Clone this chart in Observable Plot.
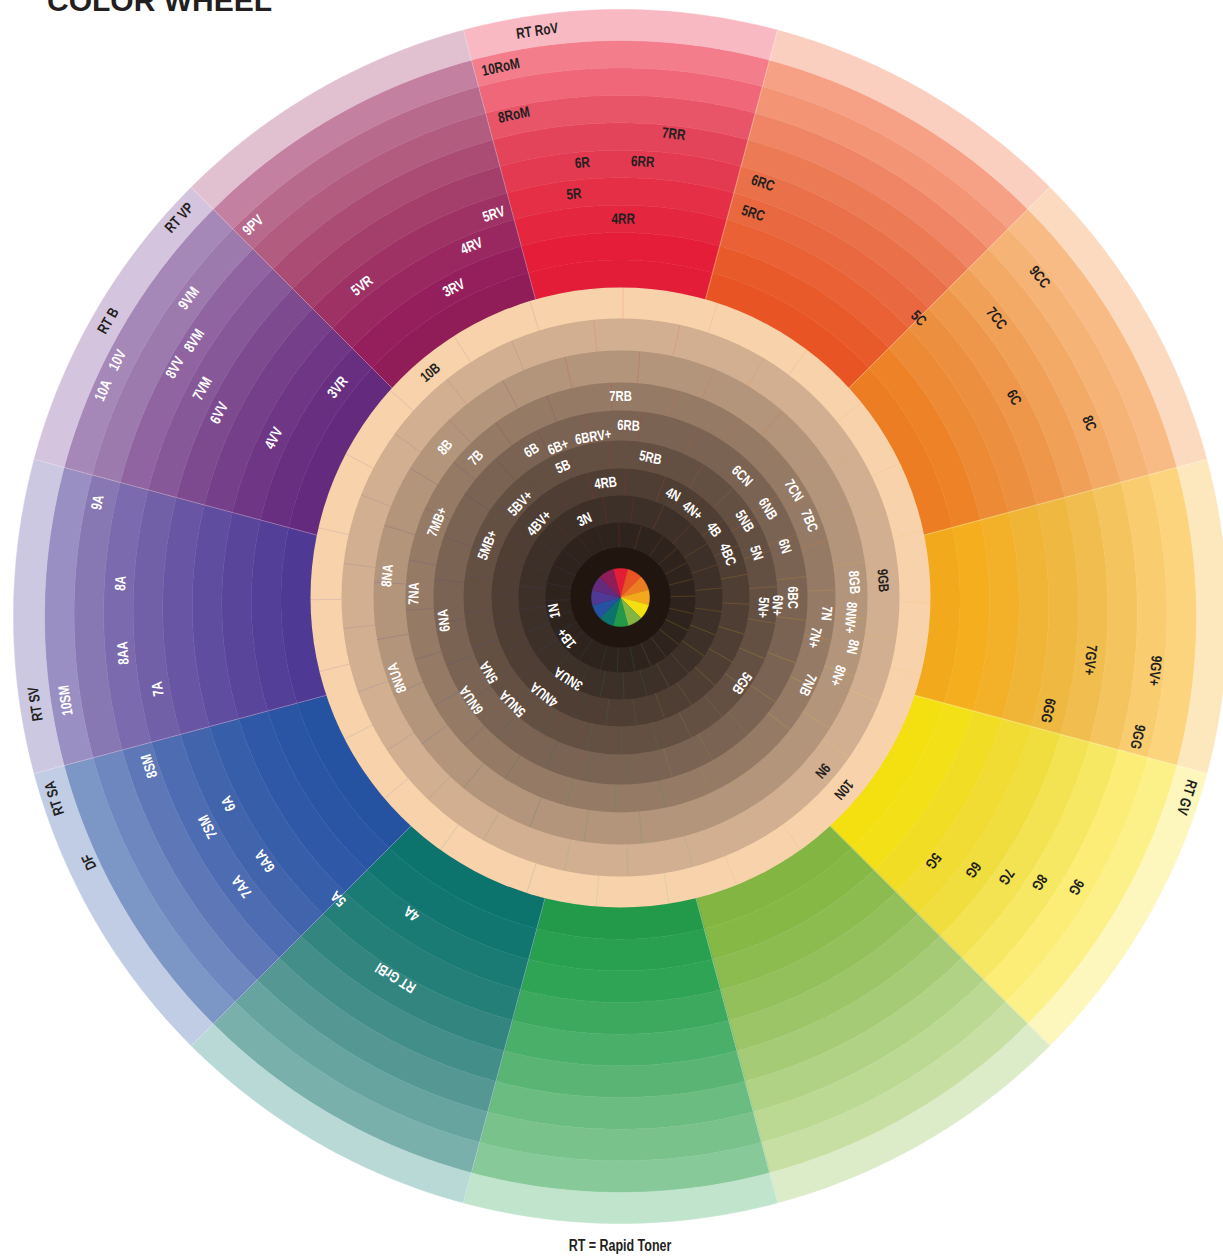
<!DOCTYPE html>
<html><head><meta charset="utf-8">
<script src="https://cdn.jsdelivr.net/npm/d3@7"></script>
<script src="https://cdn.jsdelivr.net/npm/@observablehq/plot@0.6"></script>
<style>
body{margin:0;background:#fff;width:1223px;height:1257px;overflow:hidden;position:relative}
#chart{position:absolute;left:0;top:0}
#title{position:absolute;left:47px;top:-14px;font:bold 30px/30px "Liberation Sans",Arial,sans-serif;color:#231f20;white-space:nowrap}
#caption{position:absolute;left:0;width:1240px;top:1238px;text-align:center;font:bold 16px/16px "Liberation Sans",Arial,sans-serif;color:#231f20;transform:scaleX(0.78);transform-origin:620px 0}
</style></head><body>
<div id="chart"></div>
<div id="title">COLOR WHEEL</div>
<div id="caption">RT = Rapid Toner</div>
<script>
// ---------------- DATA ----------------
const sectorHues = ["Red","Red-Orange","Orange","Yellow-Orange","Yellow","Yellow-Green","Green","Teal","Blue","Blue-Violet","Violet","Red-Violet"];
const sectorAngles = [0,30,60,90,120,150,180,210,240,270,300,330];
// shades: ring 1 (inner) ... ring 9, then the pale RT band
const shadesRed        = ["#e31c37","#e51d39","#e5263f","#e52f47","#e43a51","#e4445a","#e85468","#ef6779","#f47d8b","#f8b9c3"];
const shadesRedOrange  = ["#e85424","#e95a2a","#e96135","#e9683f","#ea7049","#ec7a55","#ef8564","#f39474","#f6a185","#fbcfbf"];
const shadesOrange     = ["#ed7d22","#ee8226","#ec8a35","#ec903f","#ee974a","#f0a057","#f3aa66","#f6b376","#f8bb85","#fbdabf"];
const shadesYellowOrange=["#f2a91c","#f4ae1e","#f3b12a","#f0b437","#efb841","#f1bd4e","#f4c45f","#f9cc70","#fcd47e","#fde7bd"];
const shadesYellow     = ["#f4df10","#f4e017","#f2dd25","#f0dc33","#f0dd3e","#f3e251","#f7e863","#fbed75","#fcf089","#fdf6bd"];
const shadesYellowGreen= ["#82b541","#86b846","#8cbc50","#93c05b","#9bc567","#a5cb76","#b0d285","#bcd994","#c7dfa3","#dcebc8"];
const shadesGreen      = ["#239a4a","#28a050","#30a455","#3ca95e","#4aaf69","#5ab574","#6abc80","#79c28c","#87c999","#c0e4cc"];
const shadesTeal       = ["#0d736d","#127670","#1a7a74","#257f79","#338680","#438e88","#559893","#67a4a0","#79b0ac","#b8d9d6"];
const shadesBlue       = ["#2552a1","#2955a4","#2f59a6","#375ea9","#4264ad","#4e6cb2","#5e78b7","#6e87be","#7c96c6","#c1cde5"];
const shadesBlueViolet = ["#4e3a95","#533f97","#59469b","#5f4ea0","#6856a4","#715fa8","#7b6aad","#8778b3","#9a8fc2","#ccc8e1"];
const shadesViolet     = ["#632a7d","#682e80","#6e3685","#753f89","#7d4a8f","#875897","#8f64a0","#9d7aad","#a688b8","#d4c4dd"];
const shadesRedViolet  = ["#911d58","#951f5c","#992861","#9e3265","#a43e6b","#aa4c74","#b25c80","#b86a8d","#c480a0","#e1c1d0"];
const sectorShades = [shadesRed,shadesRedOrange,shadesOrange,shadesYellowOrange,shadesYellow,shadesYellowGreen,shadesGreen,shadesTeal,shadesBlue,shadesBlueViolet,shadesViolet,shadesRedViolet];

// neutral (brown) disc: ring 1 (black core ring) ... ring 10 (peach)
const neutralShades = ["#20160f","#2f241d","#3d3028","#4f3e34","#635043","#7a6352","#957a65","#b2957a","#d2af90","#f8d2ab"];
// segment dividers of the neutral disc (angles in the peach ring) and per-ring stagger
const dividerAngles = [0.5,18.3,37,51,64.3,77.6,91,104.5,118,131,144.5,158,171,184.5,197.6,215.5,229.6,242.8,256.2,269.6,283,297.6,312,327.5,343];
const dividerStagger = [0,-2,7,2,-5,6,-3,4,-6,0]; // rings 1..10

// labels in the colour sectors: text, angle (deg, clockwise from top), shade level (1-9 rings, 10 = RT band)
const outerText  = ["RT RoV","10RoM","8RoM","7RR","6R","6RR","5R","4RR","6RC","5RC","9CC","7CC","5C","6C","8C","7GV+","9GV+","6GG","9GG","RT GV","5G","6G","7G","8G","9G","4A","RT GrBl","5A","7AA","6AA","7SM","6A","8SM","RT SA","DF","RT SV","10SM","9A","8A","8AA","7A","RT B","RT VP","10A","10V","9VM","8VV","8VM","7VM","6VV","4VV","3VR","9PV","5VR","5RV","4RV","3RV"];
const outerAngle = [-8.1,-12.3,-12,6.3,-4.8,2.8,-6.3,0.4,18.2,18.2,51,51.6,45,60.9,67.6,95.3,95.8,102.4,103.1,107.7,128,125.7,124,122.4,120.7,215.1,211.9,225,234.5,235.5,243,244.5,252.4,252.2,245.2,261.5,261.4,282.3,273.8,265.8,261.1,300,312.1,293.6,297,306.4,299.2,302.9,298.6,296.9,297.2,309,316.8,322,342.5,338.1,333.1];
const outerLevel = [10,9,7.2,6.2,5.1,5.1,4,3,5.15,4,8.2,6.1,4,5.1,7.1,6,8.2,4.9,8,10.1,3.7,4.9,5.9,6.9,8,2.7,4.7,3.8,5.9,4.8,5.8,4.85,6.8,10.1,9.8,10,9,8.1,6.95,6.9,5.9,10,10.1,9.1,9.1,8.1,7.2,7.1,6,5.1,3,2,8.1,3.9,3.9,3.1,2];

// labels in the neutral disc
const innerText  = ["10B","8B","7B","6B","6B+","6BRV+","6RB","7RB","5B","5RB","4RB","5BV+","4BV+","3N","7MB+","5MB+","8NA","7NA","6NA","8NUA","6NUA","5NA","5NUA","4NUA","3NUA","1B+","1N","4N","4N+","4B","4BC","6CN","5NB","5N","6NB","6N","7CN","7BC","8GB","9GB","5N+","6N+","6BC","7N","7N+","8NW+","8N","8N+","7NB","5GB","9N","10N"];
const innerAngle = [319.8,310.6,314,328.9,337.5,350.4,2.7,0,336.3,12.1,352.6,313.2,312.4,335.2,292.4,291.5,275.4,271.1,262.6,250.2,235.5,240.4,225.5,218.2,212.7,233,258.7,27,39.6,54,68.2,45,58.4,71.8,59,72.7,58.3,67.9,86.3,86.3,94,92.9,90,94.4,101.7,95,102,109.8,115,125.2,130.6,130.7];
const innerLevel = [10,8,7,6,5.7,5.7,6,7,5,5,4,4.8,3.8,2.9,6.9,5,8.1,7.2,6.2,8.2,6.3,5.3,5.3,4.3,3.3,2.2,2.2,4,3.9,4,4,6,5.1,5,6,6,7.1,7.1,8.1,9,5,5.5,6,7.2,6.9,8,8.2,8,7.2,5.2,9.1,10];

// ---------------- LAYOUT ----------------
const W = 1223, H = 1257;
const CX = 620, CY = 616;         // pixel centre of the outer wheel
const IN_DY = 19;                 // neutral disc centre sits this far above
const R_IN = 310, R_PALE = 576, R_OUT = 607;
const innerEdges = [0,29,50,75,102,129,157,187,215,247,279,310];
const DARK = "#231f20";
const FONT = '"Liberation Sans",Arial,sans-serif';
const rad = d => d * Math.PI / 180;
function boundaryR(t, deg) {
  const d = IN_DY * (1 - t), R = R_IN + (R_PALE - R_IN) * t;
  const s = Math.sin(rad(deg)), c = Math.cos(rad(deg));
  return d * c + Math.sqrt(R * R - d * d * s * s);
}
const pt = (r, deg, oy = 0) => [r * Math.sin(rad(deg)), oy + r * Math.cos(rad(deg))];
const hueAt = deg => ((Math.round(deg / 30) % 12) + 12) % 12;

// sector ring polygons
const polys = [];
sectorAngles.forEach((a, s) => {
  for (let k = 1; k <= 10; k++) {
    const outer = d => k === 10 ? R_OUT : boundaryR(k / 9, d);
    const inner = d => k === 1 ? boundaryR(-0.08, d) : boundaryR((k - 1) / 9, d);
    const pts = [];
    for (let d = a - 15; d <= a + 15 + 1e-9; d += 0.5) pts.push(pt(outer(d), d));
    for (let d = a + 15; d >= a - 15 - 1e-9; d -= 0.5) pts.push(pt(inner(d), d));
    pts.forEach(([x, y]) => polys.push({id: s + "-" + k, x, y, color: sectorShades[s][k - 1]}));
  }
});
const seps = sectorAngles.map(a => {
  const b = a + 15;
  const [x1, y1] = pt(boundaryR(0, b), b), [x2, y2] = pt(R_OUT, b);
  return {x1, y1, x2, y2};
});
// neutral disc rings
const disc = neutralShades.map((c, j) => ({r: innerEdges[j + 2], color: c})).reverse();
// dividers in rings 2..10
const dividers = [];
for (let ring = 2; ring <= 10; ring++) {
  dividerAngles.forEach(a0 => {
    const a = a0 + dividerStagger[ring - 1];
    const [x1, y1] = pt(innerEdges[ring], a, IN_DY), [x2, y2] = pt(innerEdges[ring + 1], a, IN_DY);
    dividers.push({x1, y1, x2, y2, color: sectorShades[hueAt(a)][ring >= 9 ? 5 : 1]});
  });
}
// central mini wheel
const pie = [];
sectorAngles.forEach((a, s) => {
  const pts = [[0, IN_DY]];
  for (let d = a - 15; d <= a + 15 + 1e-9; d += 1) pts.push(pt(innerEdges[1], d, IN_DY));
  pts.forEach(([x, y]) => pie.push({id: "p" + s, x, y, color: sectorShades[s][0]}));
});
function outerR(level, deg) {
  if (level <= 9.5) return boundaryR((level - 0.5) / 9, deg);
  return R_PALE + (level - 9.5) * (R_OUT - R_PALE);
}
const outerLabels = outerText.map((t, i) => {
  const deg = outerAngle[i], lev = outerLevel[i];
  const [x, y] = pt(outerR(lev, deg), deg);
  const hue = hueAt(deg);
  return {text: t, x, y, rotate: deg, fill: (hue <= 5 || lev >= 9.5) ? DARK : "#ffffff"};
});
function innerR(level) {
  const f = level + 0.5, i = Math.min(Math.floor(f), innerEdges.length - 2);
  return innerEdges[i] + (f - i) * (innerEdges[i + 1] - innerEdges[i]);
}
const innerLabels = innerText.map((t, i) => {
  const deg = innerAngle[i], lev = innerLevel[i];
  const [x, y] = pt(innerR(lev), deg, IN_DY);
  return {text: t, x, y, rotate: deg, fill: lev >= 8.9 ? DARK : "#ffffff"};
});

const chart = Plot.plot({
  width: W, height: H, margin: 0,
  x: {domain: [-CX, W - CX], axis: null},
  y: {domain: [CY - H, CY], axis: null},
  color: {type: "identity"},
  r: {type: "identity"},
  style: {background: "#ffffff"},
  marks: [
    Plot.line(polys, {x: "x", y: "y", z: "id", fill: "color", stroke: "color", strokeWidth: 0.5, curve: "linear-closed"}),
    Plot.link(seps, {x1: "x1", y1: "y1", x2: "x2", y2: "y2", stroke: "#ffffff", strokeOpacity: 0.35, strokeWidth: 0.8}),
    Plot.dot(disc, {x: () => 0, y: () => IN_DY, r: "r", fill: "color", sort: null}),
    Plot.link(dividers, {x1: "x1", y1: "y1", x2: "x2", y2: "y2", stroke: "color", strokeOpacity: 0.28, strokeWidth: 0.6}),
    Plot.line(pie, {x: "x", y: "y", z: "id", fill: "color", stroke: "color", strokeWidth: 0.5, curve: "linear-closed"}),
    Plot.text(outerLabels, {x: "x", y: "y", text: "text", rotate: "rotate", fill: "fill", fontSize: 15, fontWeight: "bold", fontFamily: FONT, textAnchor: "middle", lineAnchor: "middle", className: "lbl"}),
    Plot.text(innerLabels, {x: "x", y: "y", text: "text", rotate: "rotate", fill: "fill", fontSize: 14.5, fontWeight: "bold", fontFamily: FONT, textAnchor: "middle", lineAnchor: "middle", className: "lbl"})
  ]
});
// condensed lettering (narrow bold face)
chart.querySelectorAll(".lbl text").forEach(el => {
  const tr = el.getAttribute("transform") || "";
  el.setAttribute("transform", tr + " scale(0.78,1)");
});
document.getElementById("chart").appendChild(chart);
</script>
</body></html>
